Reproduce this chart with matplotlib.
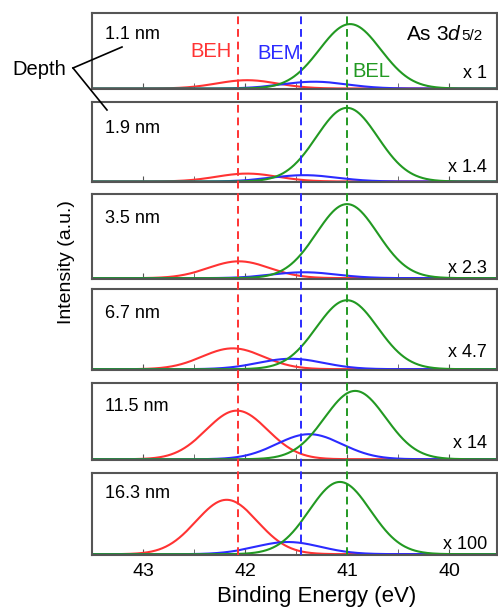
import matplotlib.pyplot as plt
import numpy as np

plt.rcParams['font.family'] = ['Liberation Sans', 'DejaVu Sans']
plt.rcParams['mathtext.fontset'] = 'custom'
plt.rcParams['mathtext.rm'] = 'Liberation Sans'
plt.rcParams['mathtext.it'] = 'Liberation Sans:italic'

# peak components (top panel -> bottom panel)
depths = ['1.1 nm', '1.9 nm', '3.5 nm', '6.7 nm', '11.5 nm', '16.3 nm']
scales = ['x 1', 'x 1.4', 'x 2.3', 'x 4.7', 'x 14', 'x 100']

beh_center = [41.98, 41.98, 42.06, 42.12, 42.08, 42.18]
beh_height = [0.11, 0.10, 0.20, 0.26, 0.64, 0.67]
bem_center = [41.32, 41.42, 41.42, 41.55, 41.37, 41.58]
bem_height = [0.09, 0.08, 0.07, 0.13, 0.33, 0.15]
bel_center = [40.97, 41.00, 41.00, 41.00, 40.92, 41.07]
bel_height = [0.85, 0.93, 0.88, 0.86, 0.90, 0.89]
peak_width = [0.30, 0.32, 0.30]  # BEH, BEM, BEL sigma (eV)

ref_lines = [42.07, 41.45, 41.00]  # BEH, BEM, BEL dashed positions

colors = ['#ff3333', '#2b2bff', '#229922']
frame = '#555555'

W, H = 498, 607
fig = plt.figure(figsize=(W / 100, H / 100), dpi=100)


def fy(py):
    return 1 - py / H


# panel extents in pixels (top, bottom)
tops = [12.7, 102.3, 194, 289, 383.3, 473]
bots = [89.3, 182.3, 279, 370, 460, 555]
left, right = 92, 497
xlim = (43.5, 39.53)
depth_base = [39, 133, 223, 318, 411, 498]
scale_base = [78, 172, 273, 357, 448, 549]

x = np.linspace(xlim[1], xlim[0], 600)
axes = []
for i in range(6):
    ax = fig.add_axes([left / W, fy(bots[i]), (right - left) / W,
                       (bots[i] - tops[i]) / H])
    ax.set_xlim(*xlim)
    ax.set_ylim(-0.01, 1)
    comps = [(beh_center[i], beh_height[i], peak_width[0]),
             (bem_center[i], bem_height[i], peak_width[1]),
             (bel_center[i], bel_height[i], peak_width[2])]
    for (c, h, s), col in zip(comps, colors):
        ax.plot(x, h * np.exp(-0.5 * ((x - c) / s) ** 2), color=col, lw=1.5)
    ax.set_xticks([43, 42, 41, 40])
    ax.set_xticks([42.5, 41.5, 40.5], minor=True)
    ax.tick_params(axis='x', which='both', direction='in', length=4,
                   color=frame, labelsize=14, pad=6)
    ax.set_yticks([])
    for sp in ax.spines.values():
        sp.set_color(frame)
        sp.set_linewidth(1.5)
    if i < 5:
        ax.tick_params(axis='x', labelbottom=False)
    fig.text(105 / W, fy(depth_base[i]), depths[i], fontsize=13,
             va='baseline', ha='left')
    fig.text(487 / W, fy(scale_base[i]), scales[i], fontsize=13,
             va='baseline', ha='right')
    axes.append(ax)

# dashed reference lines spanning all panels
over = fig.add_axes([left / W, fy(bots[-1]), (right - left) / W,
                     (bots[-1] - tops[0]) / H])
over.set_xlim(*xlim)
over.set_ylim(0, 1)
over.axis('off')
for xv, col in zip(ref_lines, colors):
    over.axvline(xv, color=col, lw=1.4, ls=(0, (4, 2.5)))

fig.text(462 / W, fy(40), r'As 3$\mathit{d}$', fontsize=15,
         va='baseline', ha='right')
fig.text(461 / W, fy(40), '5/2', fontsize=11, va='baseline', ha='left')

fig.text(190 / W, fy(57), 'BEH', color=colors[0], fontsize=14.5,
         va='baseline', ha='left')
fig.text(257 / W, fy(59), 'BEM', color=colors[1], fontsize=14.5,
         va='baseline', ha='left')
fig.text(352 / W, fy(77), 'BEL', color=colors[2], fontsize=14.5,
         va='baseline', ha='left')

fig.text(12 / W, fy(75), 'Depth', fontsize=14.5, va='baseline', ha='left')
fig.add_artist(plt.Line2D([73 / W, 122 / W], [fy(68), fy(47)],
                          color='black', lw=1.2))
fig.add_artist(plt.Line2D([73 / W, 107 / W], [fy(68), fy(110)],
                          color='black', lw=1.2))

fig.text(66 / W, fy(262), 'Intensity (a.u.)', fontsize=14,
         rotation=90, va='center', ha='center')
fig.text(317 / W, fy(602), 'Binding Energy (eV)', fontsize=16,
         va='baseline', ha='center')

fig.savefig('out.png', dpi=100)
